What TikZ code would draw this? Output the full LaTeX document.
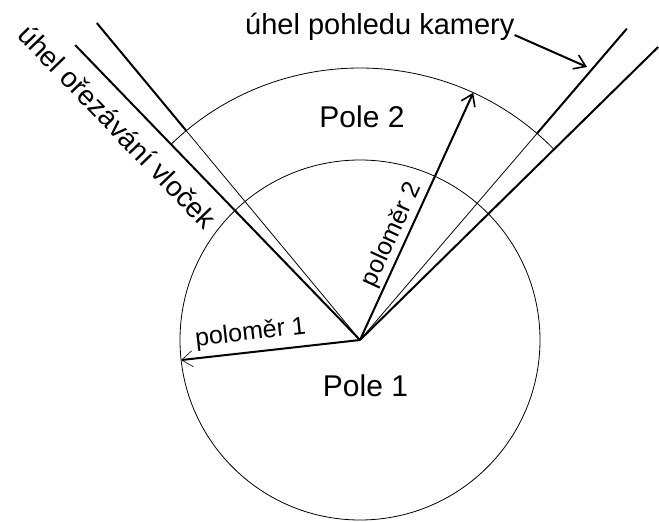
\documentclass[tikz,border=0pt]{standalone}
\usepackage{fontspec}
\setmainfont{Liberation Sans}
\usetikzlibrary{arrows.meta,calc}

\begin{document}
\begin{tikzpicture}[x=1pt,y=1pt,
  every node/.style={inner sep=0pt},
  thickline/.style={line width=2pt},
  thinline/.style={line width=0.8pt},
  barbtip/.style={-{Straight Barb[length=11pt,width=15pt,line width=1.6pt]}},
  thinbarb/.style={-{Straight Barb[length=11pt,width=16pt,line width=0.6pt]}},
  labelfont/.style={font=\fontsize{28}{34}\selectfont},
  radfont/.style={font=\fontsize{25}{30}\selectfont},
  polefont/.style={font=\fontsize{30}{36}\selectfont}]
\useasboundingbox (-360,-182) rectangle (299,340);
\coordinate (C) at (0,0);
\coordinate (inL) at (129.7:272);
\coordinate (inLend) at (129.7:412);
\coordinate (outLend) at (134:410);
\coordinate (inR) at (49.4:272);
\coordinate (inRend) at (49.4:410);
\coordinate (outRend) at (44.5:418);
\coordinate (rad1) at (186.4:180);
\coordinate (rad2) at (65.4:272);
\coordinate (camtip) at (227,273);
\draw[thinline] (C) circle[radius=180pt];
\draw[thinline] (44.5:272) arc[start angle=44.5,end angle=134,radius=272pt];
\draw[thinline] (C) -- (inL);
\draw[thickline] (inL) -- (inLend);
\draw[thickline] (C) -- (outLend);
\draw[thinline] (C) -- (inR);
\draw[thickline] (inR) -- (inRend);
\draw[thickline] (C) -- (outRend);
\draw[thickline,thinbarb] (C) -- node[sloped,above=6pt,pos=0.6,radfont] (pol1) {poloměr 1} (rad1);
\draw[thickline,barbtip] (C) -- node[sloped,above=2pt,pos=0.4,radfont] (pol2) {poloměr 2} (rad2);
\node[polefont,anchor=base] (pole2) at (2,212) {Pole 2};
\node[polefont,anchor=base] (pole1) at (5.5,-57) {Pole 1};
\node[font=\fontsize{29}{34}\selectfont,anchor=base west] (kamera) at (-115,305) {úhel pohledu kamery};
\draw[thickline,barbtip] (kamera.base east) -- (camtip);
\node[labelfont,rotate=-46] (orez) at ($(134:322)+(224:26)$) {úhel ořezávání vloček};
\end{tikzpicture}
\end{document}
